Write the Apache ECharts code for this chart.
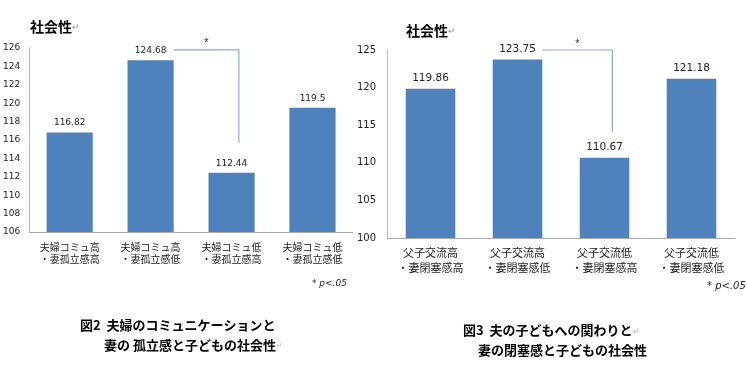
<!DOCTYPE html>
<html><head><meta charset="utf-8">
<script src="https://cdn.jsdelivr.net/npm/echarts@6/dist/echarts.min.js"></script>
<style>html,body{margin:0;padding:0;background:#fff}#c{width:747px;height:370px}</style>
</head><body><div id="c"></div>
<script>
// ---- data ----
var catsLeft = ['夫婦コミュ高\n・妻孤立感高', '夫婦コミュ高\n・妻孤立感低', '夫婦コミュ低\n・妻孤立感高', '夫婦コミュ低\n・妻孤立感低'];
var valsLeft = [116.82, 124.68, 112.44, 119.5];
var catsRight = ['父子交流高\n・妻閉塞感高', '父子交流高\n・妻閉塞感低', '父子交流低\n・妻閉塞感高', '父子交流低\n・妻閉塞感低'];
var valsRight = [119.86, 123.75, 110.67, 121.18];
var axisLeft = {min: 106, max: 126, interval: 2};
var axisRight = {min: 100, max: 125, interval: 5};
// significance bracket: [fromCategory, toCategory, topValue, bottomValue]
var bracketLeft = [[1, 2, 125.8, 115.7]];
var bracketRight = [[1, 2, 125.0, 114.1]];
var chartTitle = '社会性';
var captionLeft = ['図2  夫婦のコミュニケーションと', '妻の 孤立感と子どもの社会性'];
var captionRight = ['図3  夫の子どもへの関わりと', '妻の閉塞感と子どもの社会性'];
var sigNote = 'p<.05';

var JP = '"Noto Sans CJK JP", sans-serif';
var BAR = '#4F81BD';
var LINE = '#8AAAD8';

function bracketSeries(idx, data) {
  return {
    type: 'custom', xAxisIndex: idx, yAxisIndex: idx, data: data, silent: true, z: 5,
    renderItem: function (params, api) {
      var band = api.size([1, 0])[0];
      var p1 = api.coord([api.value(0), api.value(2)]);
      var p2 = api.coord([api.value(1), api.value(2)]);
      var pb = api.coord([api.value(1), api.value(3)]);
      var x1 = p1[0] + band * 0.57 / 2;
      var x2 = p2[0] + band * 0.09;
      return {
        type: 'group',
        children: [
          {type: 'polyline', shape: {points: [[x1, p1[1]], [x2, p1[1]], [x2, pb[1]]]},
           style: {stroke: LINE, lineWidth: 1.2, fill: null}},
          {type: 'text', style: {text: '*', x: (x1 + x2) / 2, y: p1[1] - 1, textAlign: 'center', textVerticalAlign: 'bottom',
           fontSize: 11, fontFamily: 'Arial, sans-serif', fill: '#333'}}
        ]
      };
    }
  };
}

function barSeries(idx, vals, fs) {
  return {
    type: 'bar', xAxisIndex: idx, yAxisIndex: idx, data: vals, barWidth: '57%',
    itemStyle: {color: BAR},
    label: {show: true, position: 'top', distance: 5, color: '#222', fontSize: fs, fontFamily: 'Verdana, "DejaVu Sans", sans-serif'}
  };
}

var chart = echarts.init(document.getElementById('c'));
chart.setOption({
  animation: false,
  backgroundColor: '#fff',
  title: [
    {text: chartTitle + '{m|↵}', left: 25, top: 15, textStyle: {fontSize: 14, fontWeight: 'bold', fontFamily: JP, color: '#000', rich: {m: {fontSize: 9, color: '#999', fontWeight: 'normal'}}}},
    {text: chartTitle + '{m|↵}', left: 401, top: 19, textStyle: {fontSize: 14, fontWeight: 'bold', fontFamily: JP, color: '#000', rich: {m: {fontSize: 9, color: '#999', fontWeight: 'normal'}}}},
    {text: '* {i|' + sigNote + '}', left: 307, top: 274, textStyle: {fontSize: 9, fontFamily: 'Verdana, "DejaVu Sans", sans-serif', color: '#222', fontWeight: 'normal', rich: {i: {fontStyle: 'italic', fontSize: 9, fontFamily: 'Verdana, "DejaVu Sans", sans-serif'}}}},
    {text: '* {i|' + sigNote + '}', left: 702, top: 276, textStyle: {fontSize: 10, fontFamily: 'Verdana, "DejaVu Sans", sans-serif', color: '#222', fontWeight: 'normal', rich: {i: {fontStyle: 'italic', fontSize: 10, fontFamily: 'Verdana, "DejaVu Sans", sans-serif'}}}},
    {text: captionLeft[0], left: 75, top: 314, textStyle: {fontSize: 13, fontWeight: 'bold', fontFamily: JP, color: '#000'}},
    {text: captionLeft[1] + '{m|↵}', left: 99, top: 334, textStyle: {fontSize: 13, fontWeight: 'bold', fontFamily: JP, color: '#000', rich: {m: {fontSize: 7, color: '#aaa', fontWeight: 'normal'}}}},
    {text: captionRight[0] + '{m|↵}', left: 458, top: 319, textStyle: {fontSize: 13, fontWeight: 'bold', fontFamily: JP, color: '#000', rich: {m: {fontSize: 8, color: '#aaa', fontWeight: 'normal'}}}},
    {text: captionRight[1], left: 473, top: 339, textStyle: {fontSize: 13, fontWeight: 'bold', fontFamily: JP, color: '#000'}}
  ],
  grid: [
    {left: 26, right: 394, top: 48, bottom: 138},
    {left: 387, right: 12, top: 50, bottom: 132}
  ],
  xAxis: [
    {type: 'category', gridIndex: 0, data: catsLeft, axisTick: {show: false}, axisLine: {lineStyle: {color: '#aaa'}},
     axisLabel: {fontSize: 10, lineHeight: 12, color: '#222', fontFamily: JP, margin: 9, interval: 0}},
    {type: 'category', gridIndex: 1, data: catsRight, axisTick: {show: false}, axisLine: {lineStyle: {color: '#aaa'}},
     axisLabel: {fontSize: 11, lineHeight: 15, color: '#222', fontFamily: JP, margin: 7, interval: 0}}
  ],
  yAxis: [
    {type: 'value', gridIndex: 0, min: axisLeft.min, max: axisLeft.max, interval: axisLeft.interval,
     splitLine: {show: false}, axisTick: {show: false}, axisLine: {show: true, lineStyle: {color: '#bbb'}},
     axisLabel: {fontSize: 9, color: '#222', margin: 9, fontFamily: 'Verdana, "DejaVu Sans", sans-serif'}},
    {type: 'value', gridIndex: 1, min: axisRight.min, max: axisRight.max, interval: axisRight.interval,
     splitLine: {show: false}, axisTick: {show: false}, axisLine: {show: true, lineStyle: {color: '#bbb'}},
     axisLabel: {fontSize: 10, color: '#222', margin: 11, fontFamily: 'Verdana, "DejaVu Sans", sans-serif'}}
  ],
  series: [
    barSeries(0, valsLeft, 9),
    barSeries(1, valsRight, 10.5),
    bracketSeries(0, bracketLeft),
    bracketSeries(1, bracketRight)
  ]
});
</script></body></html>
